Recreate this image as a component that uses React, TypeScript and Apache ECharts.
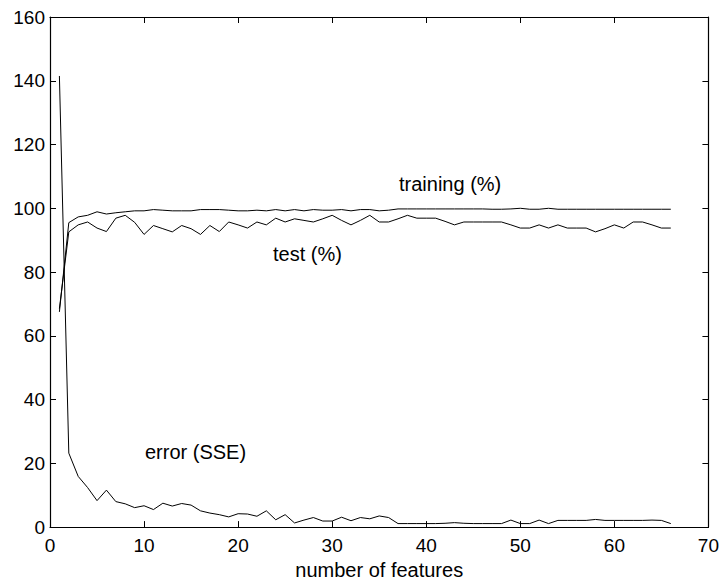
import React, { useEffect, useRef } from "react";
import * as echarts from "echarts";

const features: number[] = Array.from({ length: 66 }, (_, i) => i + 1);

const training: number[] = [
  67.5, 95.5, 97.3, 97.8, 98.9, 98.2, 98.6, 98.9, 99.2, 99.2,
  99.6, 99.4, 99.2, 99.2, 99.2, 99.6, 99.6, 99.6, 99.4, 99.2,
  99.2, 99.4, 99.2, 99.6, 99.2, 99.6, 99.2, 99.6, 99.4, 99.4,
  99.6, 99.2, 99.6, 99.6, 99.2, 99.4, 99.8, 99.8, 99.8, 99.8,
  99.8, 99.8, 99.8, 99.8, 99.8, 99.8, 99.7, 99.7, 99.8, 100,
  99.7, 99.7, 100, 99.7, 99.7, 99.7, 99.7, 99.7, 99.7, 99.7,
  99.7, 99.7, 99.7, 99.7, 99.7, 99.7,
];

const test: number[] = [
  68.5, 92.6, 94.8, 95.7, 93.8, 92.7, 96.9, 97.8, 95.6, 91.8,
  94.6, 93.6, 92.6, 94.6, 93.6, 91.8, 94.6, 92.7, 95.7, 94.8,
  93.8, 95.7, 94.8, 96.9, 95.7, 96.7, 96.2, 95.7, 96.7, 97.8,
  96.2, 94.8, 96.2, 97.8, 95.7, 95.7, 96.7, 97.8, 96.9, 96.9,
  96.9, 95.9, 94.8, 95.7, 95.7, 95.7, 95.7, 95.7, 94.8, 93.8,
  93.8, 94.8, 93.8, 94.8, 93.8, 93.8, 93.8, 92.6, 93.6, 94.8,
  93.8, 95.7, 95.7, 94.8, 93.8, 93.8,
];

const errorSSE: number[] = [
  141.5, 23.2, 15.9, 12.4, 8.3, 11.6, 8.0, 7.3, 6.1, 6.7,
  5.5, 7.5, 6.6, 7.4, 6.9, 5.1, 4.4, 3.9, 3.2, 4.2,
  4.1, 3.4, 5.1, 2.3, 3.9, 1.3, 2.2, 3.0, 1.9, 1.9,
  3.1, 2.0, 3.0, 2.6, 3.5, 3.0, 1.1, 1.1, 1.1, 1.1,
  1.1, 1.2, 1.4, 1.2, 1.1, 1.1, 1.1, 1.1, 2.2, 1.1,
  1.1, 2.2, 1.1, 2.1, 2.1, 2.1, 2.1, 2.4, 2.1, 2.1,
  2.1, 2.1, 2.1, 2.2, 2.1, 1.1,
];

const xLabel = "number of features";
const annotations = [
  { text: "training (%)", x: 399, y: 184 },
  { text: "test (%)", x: 273, y: 254 },
  { text: "error (SSE)", x: 145, y: 452 },
];

const FONT = "'Liberation Sans', Arial, Helvetica, sans-serif";

export default function App() {
  const ref = useRef<HTMLDivElement>(null);
  useEffect(() => {
    if (!ref.current) return;
    const chart = echarts.init(ref.current, undefined, { renderer: "svg" });
    const pair = (arr: number[]) => features.map((f, i) => [f, arr[i]]);
    const lineSeries = (name: string, arr: number[]) => ({
      name,
      type: "line",
      data: pair(arr),
      showSymbol: false,
      symbol: "none",
      lineStyle: { color: "#000", width: 1 },
      xAxisIndex: 0,
      yAxisIndex: 0,
    });
    const axisLine = { show: true, onZero: false, lineStyle: { color: "#000", width: 1.2 } };
    const tick = { show: true, inside: true, length: 6, lineStyle: { color: "#000", width: 1 } };
    chart.setOption({
      animation: false,
      backgroundColor: "#fff",
      grid: { left: 50, top: 17, right: 13, bottom: 48, containLabel: false },
      xAxis: [
        {
          type: "value",
          min: 0,
          max: 70,
          interval: 10,
          position: "bottom",
          name: xLabel,
          nameLocation: "middle",
          nameGap: 29,
          nameTextStyle: { color: "#000", fontSize: 20, fontFamily: FONT },
          axisLine,
          axisTick: tick,
          splitLine: { show: false },
          axisLabel: { color: "#000", fontSize: 19, fontFamily: FONT, margin: 9 },
        },
        {
          type: "value",
          min: 0,
          max: 70,
          interval: 10,
          position: "top",
          axisLine,
          axisTick: tick,
          splitLine: { show: false },
          axisLabel: { show: false },
        },
      ],
      yAxis: [
        {
          type: "value",
          min: 0,
          max: 160,
          interval: 20,
          position: "left",
          axisLine,
          axisTick: tick,
          splitLine: { show: false },
          axisLabel: { color: "#000", fontSize: 19, fontFamily: FONT, margin: 5 },
        },
        {
          type: "value",
          min: 0,
          max: 160,
          interval: 20,
          position: "right",
          axisLine,
          axisTick: tick,
          splitLine: { show: false },
          axisLabel: { show: false },
        },
      ],
      series: [
        lineSeries("training (%)", training),
        lineSeries("test (%)", test),
        lineSeries("error (SSE)", errorSSE),
      ],
      graphic: annotations.map((a) => ({
        type: "text",
        x: a.x,
        y: a.y,
        style: {
          text: a.text,
          fill: "#000",
          font: `20px ${FONT}`,
          textAlign: "left",
          textVerticalAlign: "middle",
        },
      })),
    });
    return () => chart.dispose();
  }, []);
  return (
    <div
      ref={ref}
      style={{ position: "fixed", left: 0, top: 0, width: 722, height: 585, background: "#fff" }}
    />
  );
}
